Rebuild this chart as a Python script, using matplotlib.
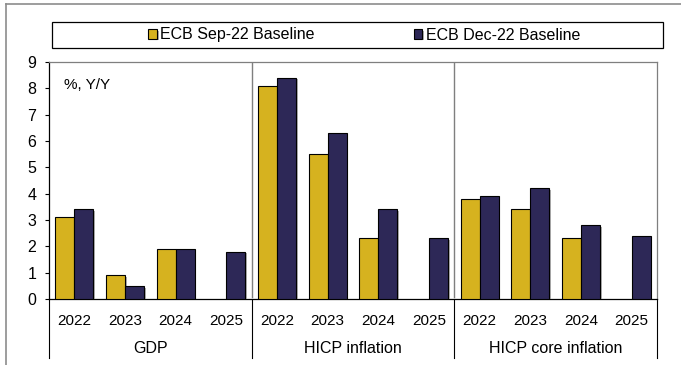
import matplotlib.pyplot as plt
import matplotlib.patches as mpatches
import matplotlib.patheffects as pe
import matplotlib.transforms as mtrans
import numpy as np

plt.rcParams['font.family'] = ['Liberation Sans', 'DejaVu Sans']

years = ["2022", "2023", "2024", "2025"]
groups = ["GDP", "HICP inflation", "HICP core inflation"]
series = ["ECB Sep-22 Baseline", "ECB Dec-22 Baseline"]
sep22 = [3.1, 0.9, 1.9, np.nan, 8.1, 5.5, 2.3, np.nan, 3.8, 3.4, 2.3, np.nan]
dec22 = [3.4, 0.5, 1.9, 1.8, 8.4, 6.3, 3.4, 2.3, 3.9, 4.2, 2.8, 2.4]
colors = ["#D6B21F", "#2D2857"]

W, H = 681, 365
fig = plt.figure(figsize=(W / 100, H / 100), dpi=100)
ax = fig.add_axes([49 / W, (H - 299) / H, 608 / W, 237 / H])

x = np.arange(len(dec22))
bw = 0.375
shadow = [pe.SimplePatchShadow(offset=(1.2, -1.2), shadow_rgbFace="#9a9a9a", alpha=0.8), pe.Normal()]
b1 = ax.bar(x - bw / 2, sep22, bw, color=colors[0], edgecolor="black", linewidth=0.8,
            label=series[0], zorder=3)
b2 = ax.bar(x + bw / 2, dec22, bw, color=colors[1], edgecolor="black", linewidth=0.8,
            label=series[1], zorder=3)
for p in list(b1) + list(b2):
    p.set_path_effects(shadow)

ax.set_xlim(-0.5, len(dec22) - 0.5)
ax.set_ylim(0, 9)
ax.set_yticks(range(10))
ax.tick_params(axis="y", direction="out", length=3, width=0.8, labelsize=11.5, pad=6)
ax.set_xticks(x)
ax.set_xticklabels(years * len(groups), fontsize=11)
ax.tick_params(axis="x", length=0, pad=11)

for s in ["top", "right"]:
    ax.spines[s].set_color("#7f7f7f")
    ax.spines[s].set_linewidth(0.9)
ax.spines["left"].set_linewidth(0.9)
ax.spines["bottom"].set_linewidth(0.9)

# group separators inside the plot area
for g in range(1, len(groups)):
    ax.axvline(g * 4 - 0.5, ymin=0.01, ymax=1, color="#7f7f7f", lw=1.0, zorder=2)

# group labels and dividers under the axis
tr = mtrans.blended_transform_factory(ax.transData, ax.transAxes)
for g in range(len(groups) + 1):
    ax.plot([g * 4 - 0.5] * 2, [0, -0.25], transform=tr, color="black", lw=0.8, clip_on=False)
for g, name in enumerate(groups):
    ax.text(g * 4 + 1.5, -0.21, name, transform=tr, ha="center", va="center", fontsize=11.5)

ax.text(0.025, 0.905, "%, Y/Y", transform=ax.transAxes, fontsize=11, va="center")

# legend box
fig.patches.append(mpatches.Rectangle((52 / W, 1 - 48 / H), 611 / W, 26 / H,
                                      transform=fig.transFigure, fill=False,
                                      edgecolor="black", lw=0.9))
fig.legend(handles=[b1, b2], loc="center", bbox_to_anchor=(364 / W, 1 - 35 / H),
           ncol=2, frameon=False, fontsize=11.5, handlelength=0.55, handleheight=0.55,
           handletextpad=0.2, columnspacing=6.2)

# outer frame (left and top edges)
fig.add_artist(plt.Line2D([6 / W, 6 / W], [0, 1 - 4 / H], color="#8c8c8c", lw=1.2))
fig.add_artist(plt.Line2D([6 / W, 1], [1 - 4 / H, 1 - 4 / H], color="#8c8c8c", lw=1.2))

fig.savefig("out.png", dpi=100)
